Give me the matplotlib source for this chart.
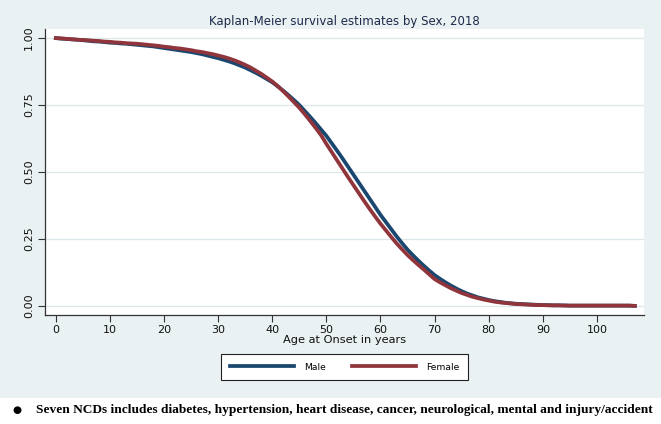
"""Kaplan-Meier survival curves by sex, 2018 (Stata-style look)."""

from __future__ import annotations

import matplotlib

matplotlib.use("Agg")
import matplotlib.pyplot as plt
from matplotlib.lines import Line2D
from matplotlib.patches import Rectangle


# age at onset, one reading per year
AGES = list(range(0, 108))

MALE_SURV = [
    1.000, 0.998, 0.997, 0.995, 0.994, 0.992, 0.990, 0.988, 0.987, 0.985,
    0.983, 0.982, 0.980, 0.979, 0.977, 0.975, 0.973, 0.971, 0.969, 0.966,
    0.963, 0.960, 0.957, 0.954, 0.951, 0.948, 0.944, 0.940, 0.935, 0.930,
    0.925, 0.919, 0.913, 0.906, 0.898, 0.890, 0.880, 0.870, 0.859, 0.847,
    0.835, 0.820, 0.804, 0.787, 0.769, 0.750, 0.728, 0.706, 0.683, 0.659,
    0.635, 0.607, 0.579, 0.550, 0.520, 0.490, 0.460, 0.430, 0.400, 0.370,
    0.340, 0.313, 0.286, 0.259, 0.234, 0.210, 0.189, 0.169, 0.150, 0.132,
    0.115, 0.101, 0.088, 0.076, 0.065, 0.055, 0.046, 0.039, 0.032, 0.027,
    0.022, 0.018, 0.015, 0.012, 0.010, 0.008, 0.007, 0.006, 0.005, 0.004,
    0.003, 0.003, 0.002, 0.002, 0.002, 0.001, 0.001, 0.001, 0.001, 0.001,
    0.001, 0.001, 0.001, 0.001, 0.001, 0.001, 0.001, 0.000,
]

FEMALE_SURV = [
    1.000, 0.999, 0.997, 0.996, 0.994, 0.993, 0.992, 0.990, 0.989, 0.987,
    0.986, 0.984, 0.983, 0.981, 0.980, 0.979, 0.977, 0.975, 0.973, 0.971,
    0.968, 0.966, 0.963, 0.961, 0.958, 0.955, 0.951, 0.948, 0.944, 0.940,
    0.935, 0.930, 0.924, 0.917, 0.909, 0.900, 0.890, 0.878, 0.866, 0.852,
    0.838, 0.821, 0.802, 0.782, 0.761, 0.740, 0.716, 0.691, 0.665, 0.638,
    0.605, 0.574, 0.543, 0.512, 0.481, 0.451, 0.421, 0.391, 0.362, 0.334,
    0.307, 0.282, 0.257, 0.233, 0.211, 0.190, 0.171, 0.153, 0.136, 0.118,
    0.100, 0.088, 0.077, 0.066, 0.057, 0.048, 0.041, 0.034, 0.029, 0.024,
    0.020, 0.016, 0.013, 0.011, 0.009, 0.007, 0.006, 0.005, 0.004, 0.003,
    0.003, 0.002, 0.002, 0.002, 0.001, 0.001, 0.001, 0.001, 0.001, 0.001,
    0.001, 0.001, 0.001, 0.001, 0.001, 0.001, 0.001, 0.000,
]

X_TICKS = [0, 10, 20, 30, 40, 50, 60, 70, 80, 90, 100]
Y_TICKS = [0.00, 0.25, 0.50, 0.75, 1.00]
Y_TICK_LABELS = ["0.00", "0.25", "0.50", "0.75", "1.00"]

TITLE = "Kaplan-Meier survival estimates by Sex, 2018"
X_LABEL = "Age at Onset in years"
SERIES_NAMES = ["Male", "Female"]
FOOTNOTE = ("Seven NCDs includes diabetes, hypertension, heart disease, cancer, "
            "neurological, mental and injury/accident")

MALE_COLOR = "#1a476f"
FEMALE_COLOR = "#90353b"
REGION_COLOR = "#eaf1f3"
GRID_COLOR = "#dde8ec"
TEXT_COLOR = "#1c2a4a"


def main() -> None:
    plt.rcParams["font.family"] = ["DejaVu Sans"]

    fig = plt.figure(figsize=(6.61, 4.24), dpi=100, facecolor="white")
    # graph region (light bluish gray), white strip left at the bottom for the note
    fig.patches.append(Rectangle((0, 26 / 424), 1, 1 - 26 / 424,
                                 transform=fig.transFigure,
                                 facecolor=REGION_COLOR, edgecolor="none",
                                 zorder=-10))

    ax = fig.add_axes([45 / 661, 1 - 315 / 424, 599 / 661, 286 / 424])
    ax.set_facecolor("white")

    ax.plot(AGES, MALE_SURV, color=MALE_COLOR, lw=2.7, zorder=3)
    ax.plot(AGES, FEMALE_SURV, color=FEMALE_COLOR, lw=2.7, zorder=4)

    ax.set_xlim(-2.0, 108.7)
    ax.set_ylim(-0.034, 1.034)
    ax.set_xticks(X_TICKS)
    ax.set_yticks(Y_TICKS)
    ax.set_yticklabels(Y_TICK_LABELS, rotation=90, va="center")
    ax.yaxis.grid(True, color=GRID_COLOR, lw=0.9)
    ax.set_axisbelow(True)

    for side in ("top", "right"):
        ax.spines[side].set_visible(False)
    for side in ("left", "bottom"):
        ax.spines[side].set_color("#333333")
        ax.spines[side].set_linewidth(0.9)
    ax.tick_params(axis="both", direction="out", length=5, width=0.8,
                   color="#333333", labelsize=8, labelcolor="#111111")
    ax.tick_params(axis="x", pad=2)
    ax.tick_params(axis="y", pad=3)

    ax.set_xlabel(X_LABEL, fontsize=8.2, color="#111111", labelpad=0)
    fig.text(344.5 / 661, 1 - 21 / 424, TITLE, ha="center", va="center",
             fontsize=8.45, color=TEXT_COLOR)

    handles = [
        Line2D([], [], color=MALE_COLOR, lw=2.7),
        Line2D([], [], color=FEMALE_COLOR, lw=2.7),
    ]
    leg = fig.legend(handles, SERIES_NAMES, loc="center",
                     bbox_to_anchor=(344.5 / 661, 1 - 367 / 424), ncol=2,
                     fontsize=6.6, frameon=True, fancybox=False,
                     handlelength=7, handletextpad=1.1, columnspacing=2.8,
                     borderpad=0.95)
    leg.get_frame().set_edgecolor("#222222")
    leg.get_frame().set_linewidth(0.8)
    leg.get_frame().set_facecolor("white")
    leg.get_frame().set_alpha(1)

    # footnote below the graph region
    fig.text(17 / 661, 1 - 410 / 424, "\u25cf", ha="center", va="center",
             fontsize=7.5, color="black")
    fig.text(36 / 661, 1 - 410 / 424, FOOTNOTE, ha="left", va="center",
             fontsize=9.65, fontweight="bold", color="black",
             family=["Liberation Serif", "DejaVu Serif"])

    fig.savefig("out.png", dpi=100, facecolor=fig.get_facecolor())
    plt.close(fig)


if __name__ == "__main__":
    main()
